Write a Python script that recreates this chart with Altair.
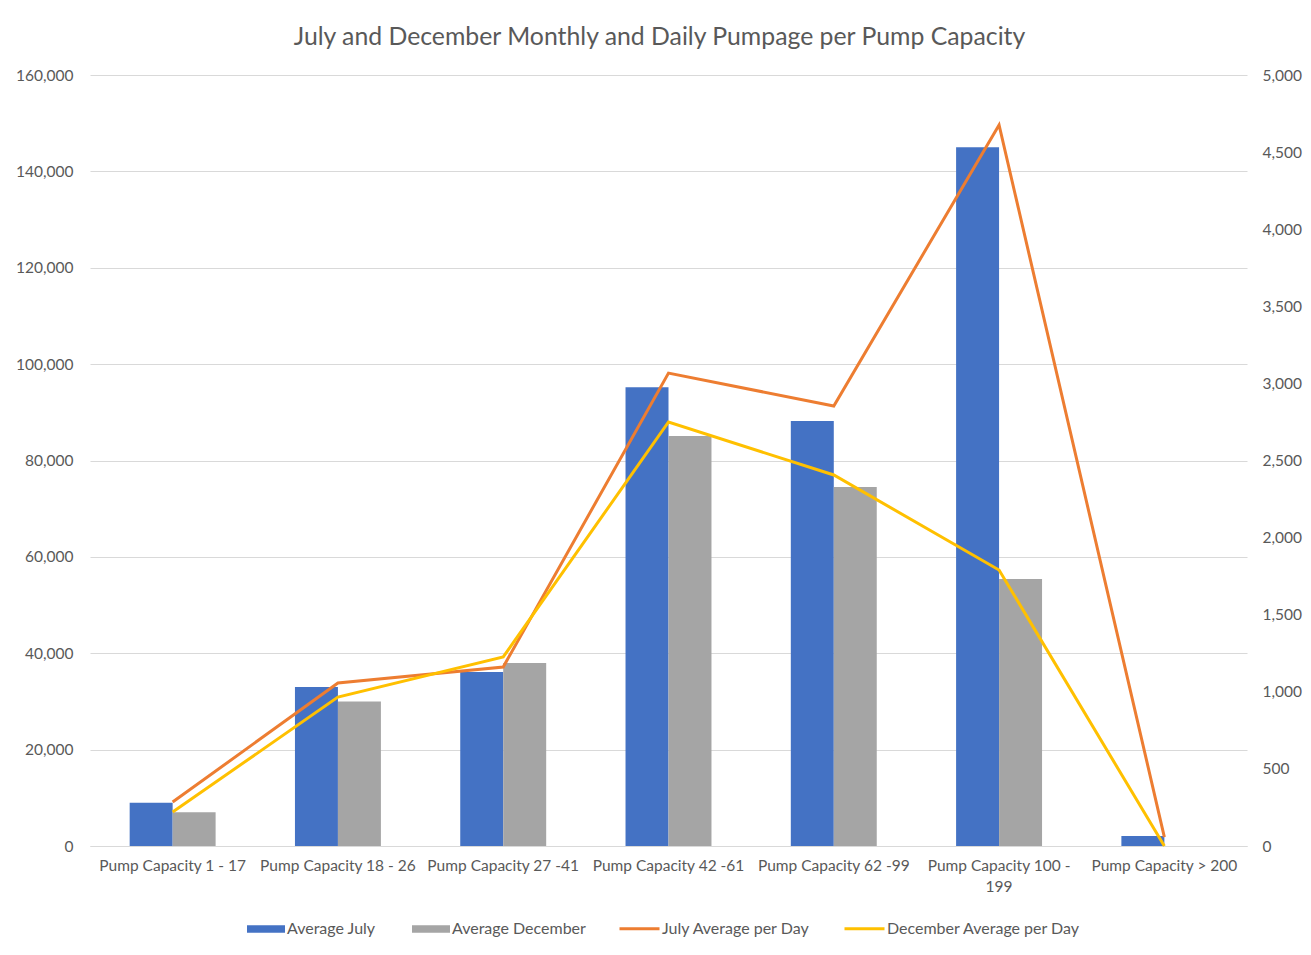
import altair as alt
import pandas as pd

categories = ["Pump Capacity 1 - 17", "Pump Capacity 18 - 26", "Pump Capacity 27 -41",
              "Pump Capacity 42 -61", "Pump Capacity 62 -99", "Pump Capacity 100 - 199",
              "Pump Capacity > 200"]
avg_july = [9000, 33000, 36100, 95200, 88200, 145000, 2100]
avg_december = [7000, 30000, 38000, 85100, 74500, 55400, 0]
july_per_day = [285, 1057, 1161, 3067, 2853, 4676, 58]
december_per_day = [220, 966, 1226, 2750, 2406, 1790, 0]

bar_series = ["Average July", "Average December"]
line_series = ["July Average per Day", "December Average per Day"]
left_ticks = [0, 20000, 40000, 60000, 80000, 100000, 120000, 140000, 160000]
right_ticks = [0, 500, 1000, 1500, 2000, 2500, 3000, 3500, 4000, 4500, 5000]

bar_df = pd.DataFrame({
    "Category": categories * 2,
    "Series": [bar_series[0]] * 7 + [bar_series[1]] * 7,
    "Value": avg_july + avg_december,
})
line_df = pd.DataFrame({
    "Category": categories * 2,
    "Series": [line_series[0]] * 7 + [line_series[1]] * 7,
    "Value": july_per_day + december_per_day,
})

FONT = "Lato"
GRAY = "#595959"

x_axis = alt.Axis(
    title=None, labelAngle=0, ticks=False, domainColor="#D9D9D9", labelPadding=12,
    labelFont=FONT, labelFontSize=15.5, labelColor=GRAY, labelLimit=400,
    labelExpr="datum.label == 'Pump Capacity 100 - 199' ? ['Pump Capacity 100 -', '199'] : datum.label",
    labelLineHeight=21,
)

bars = alt.Chart(bar_df).mark_bar().encode(
    x=alt.X("Category:N", sort=categories,
            scale=alt.Scale(paddingInner=0.48, paddingOuter=0.24), axis=x_axis),
    xOffset=alt.XOffset("Series:N", sort=bar_series),
    y=alt.Y("Value:Q", scale=alt.Scale(domain=[0, 160000], nice=False),
            axis=alt.Axis(title=None, values=left_ticks, format=",.0f", ticks=False, domain=False,
                          grid=True, gridColor="#D9D9D9", labelPadding=17,
                          labelFont=FONT, labelFontSize=15.5, labelColor=GRAY)),
    color=alt.Color("Series:N", sort=bar_series,
                    scale=alt.Scale(domain=bar_series, range=["#4472C4", "#A5A5A5"]),
                    legend=alt.Legend(title=None, orient="none", direction="horizontal",
                                      legendX=157, legendY=835,
                                      symbolType="M-1,-0.2L1,-0.2L1,0.2L-1,0.2Z",
                                      symbolSize=1444, symbolStrokeWidth=0,
                                      labelFont=FONT, labelFontSize=16, labelColor=GRAY,
                                      labelLimit=400, labelBaseline="middle",
                                      labelOffset=2, columnPadding=36)),
)

lines = alt.Chart(line_df).mark_line(strokeWidth=3).encode(
    x=alt.X("Category:N", sort=categories),
    y=alt.Y("Value:Q", scale=alt.Scale(domain=[0, 5000], nice=False),
            axis=alt.Axis(title=None, orient="right", values=right_ticks, format=",.0f",
                          ticks=False, domain=False, grid=False, labelPadding=15,
                          labelFont=FONT, labelFontSize=15.5, labelColor=GRAY)),
    stroke=alt.Stroke("Series:N", sort=line_series,
                      scale=alt.Scale(domain=line_series, range=["#ED7D31", "#FFC000"]),
                      legend=alt.Legend(title=None, orient="none", direction="horizontal",
                                        legendX=528, legendY=832,
                                        symbolType="stroke", symbolSize=1600,
                                        symbolStrokeWidth=3,
                                        labelFont=FONT, labelFontSize=16, labelColor=GRAY,
                                        labelLimit=400, labelBaseline="middle",
                                        labelOffset=1, columnPadding=28)),
)

chart = alt.layer(bars, lines).resolve_scale(y="independent").properties(
    width=1157, height=771,
    title=alt.TitleParams("July and December Monthly and Daily Pumpage per Pump Capacity",
                          font=FONT, fontSize=24.8, fontWeight="normal", color=GRAY,
                          offset=18, anchor="middle", dx=-9),
    autosize=alt.AutoSizeParams(type="none"),
    padding={"left": 82, "top": 67, "right": 56, "bottom": 100},
).configure_view(stroke=None)

chart.save("out.html", embed_options={"renderer": "svg", "actions": False})
